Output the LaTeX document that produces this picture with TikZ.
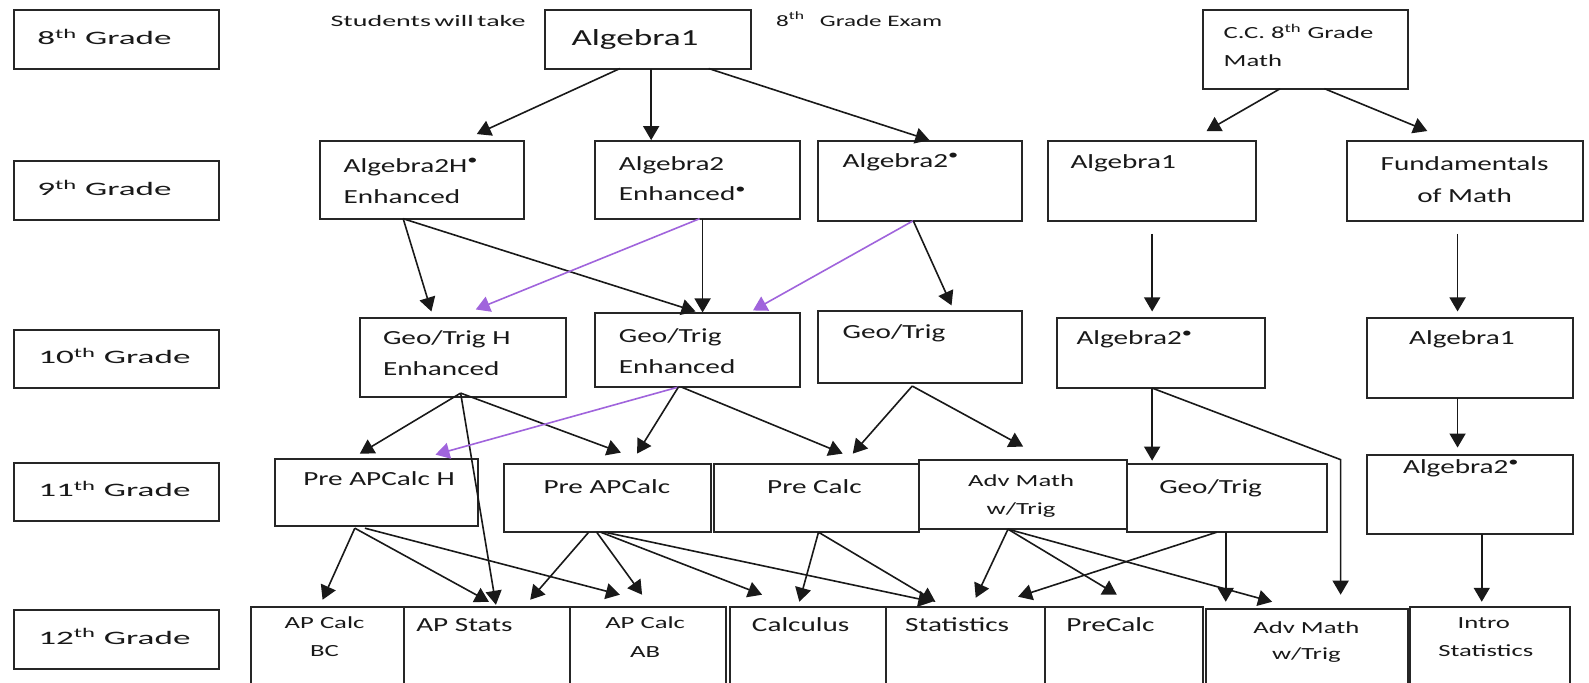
\documentclass[tikz,border=0pt]{standalone}
\usepackage{fontspec}
\usepackage{graphicx}
\setmainfont{Carlito}
\usetikzlibrary{arrows.meta,fit,calc}
\definecolor{lilac}{RGB}{160,100,220}
\newcommand{\xG}[1]{\scalebox{1.85}[1]{#1}}
\newcommand{\xB}[1]{\scalebox{1.53}[1]{#1}}
\newcommand{\xM}[1]{\scalebox{1.46}[1]{#1}}
\newcommand{\xS}[1]{\scalebox{1.57}[1]{#1}}
\newcommand{\xT}[1]{\scalebox{1.75}[1]{#1}}
\newcommand{\bul}{\textsuperscript{•}}
\begin{document}
\begin{tikzpicture}[x=1.008pt,y=-1.008pt,
 box/.style={draw=black!85, line width=2pt, inner sep=0pt, outer sep=0pt},
 tx/.style={inner sep=0pt, outer sep=0pt, text=black!90},
 tw/.style={tx, anchor=base west},
 tc/.style={tx, anchor=base},
 fg/.style={font=\fontsize{19}{19}\selectfont},
 fb/.style={font=\fontsize{23}{23}\selectfont},
 fm/.style={font=\fontsize{20}{20}\selectfont},
 fs/.style={font=\fontsize{17}{17}\selectfont},
 ft/.style={font=\fontsize{16}{16}\selectfont},
 arr/.style={line width=1.6pt, draw=black!90, -{Triangle[length=14pt,width=16pt]}},
 parr/.style={arr, draw=lilac}]
\fill[white] (0,0) rectangle (1576.4,676.6);
\useasboundingbox (0,0) rectangle (1576.4,676.6);
% grade boxes
\node[box, fit={(14,10) (217,68)}] (g8) {};
\node[box, fit={(14,160) (217,218)}] (g9) {};
\node[box, fit={(14,327) (217,385)}] (g10) {};
\node[box, fit={(14,459) (217,517)}] (g11) {};
\node[box, fit={(14,605) (217,664)}] (g12) {};
\node[tw,fg] (tg8) at (37,44) {\xG{8\textsuperscript{th} Grade}};
\node[tw,fg] (tg9) at (37,194) {\xG{9\textsuperscript{th} Grade}};
\node[tw,fg] (tg10) at (38,361) {\xG{10\textsuperscript{th} Grade}};
\node[tw,fg] (tg11) at (38,493) {\xG{11\textsuperscript{th} Grade}};
\node[tw,fg] (tg12) at (38,639) {\xG{12\textsuperscript{th} Grade}};
% top row
\node[tw,ft] (tstu) at (328,26) {\xT{Students\hspace{2pt}will\hspace{2pt}take}};
\node[tw,ft] (texam) at (770,26) {\xS{8\textsuperscript{th}\hspace{6pt} Grade Exam}};
\node[box, fit={(541,10) (745,68)}] (alg) {};
\node[tw,fb] (talg) at (567,45) {\xB{Algebra1}};
\node[box, fit={(1193,10) (1397,88)}] (cc) {};
\node[tw,fs] (tcc1) at (1214,38) {\xS{C.C. 8\textsuperscript{th} Grade}};
\node[tw,fs] (tcc2) at (1214,66) {\xS{Math}};
% row 9
\node[box, fit={(317,140) (520,217)}] (a2he) {};
\node[box, fit={(590,140) (794,217)}] (a2e) {};
\node[box, fit={(812,140) (1014,219)}] (a2s) {};
\node[box, fit={(1040,140) (1246,219)}] (a1r) {};
\node[box, fit={(1336,140) (1570,219)}] (fom) {};
\node[tw,fm] (t9a) at (341,171) {\xM{Algebra2H\bul}};
\node[tw,fm] (t9b) at (341,202) {\xM{Enhanced}};
\node[tw,fm] (t9c) at (614,169) {\xM{Algebra2}};
\node[tw,fm] (t9d) at (614,199) {\xM{Enhanced\bul}};
\node[tw,fm] (t9e) at (836,166) {\xM{Algebra2\bul}};
\node[tw,fm] (t9f) at (1062,167) {\xM{Algebra1}};
\node[tc,fm] (t9g) at (1453,169) {\xM{Fundamentals}};
\node[tc,fm] (t9h) at (1453,201) {\xM{of Math}};
% row 10
\node[box, fit={(357,315) (562,394)}] (gthe) {};
\node[box, fit={(590,311) (794,384)}] (gte) {};
\node[box, fit={(812,309) (1014,380)}] (gt) {};
\node[box, fit={(1049,315) (1255,385)}] (a2sx) {};
\node[box, fit={(1356,315) (1561,395)}] (a1rx) {};
\node[tw,fm] (t10a) at (380,342) {\xM{Geo/Trig H}};
\node[tw,fm] (t10b) at (380,373) {\xM{Enhanced}};
\node[tw,fm] (t10c) at (614,340) {\xM{Geo/Trig}};
\node[tw,fm] (t10d) at (614,371) {\xM{Enhanced}};
\node[tw,fm] (t10e) at (836,336) {\xM{Geo/Trig}};
\node[tw,fm] (t10f) at (1068,342) {\xM{Algebra2\bul}};
\node[tw,fm] (t10g) at (1398,342) {\xM{Algebra1}};
% row 11
\node[box, fit={(273,455) (474,522)}] (paph) {};
\node[box, fit={(500,460) (705,528)}] (pap) {};
\node[box, fit={(708,460) (912,528)}] (pc) {};
\node[box, fit={(912,456) (1118,525)}] (am) {};
\node[box, fit={(1118,460) (1316,528)}] (gty) {};
\node[box, fit={(1356,451) (1561,530)}] (a2sy) {};
\node[tc,fm] (t11a) at (376,482) {\xM{Pre APCalc H}};
\node[tc,fm] (t11b) at (602,490) {\xM{Pre APCalc}};
\node[tc,fm] (t11c) at (808,490) {\xM{Pre Calc}};
\node[tc,fs] (t11d) at (1013,483) {\xS{Adv Math}};
\node[tc,fs] (t11e) at (1013,510) {\xS{w/Trig}};
\node[tc,fm] (t11f) at (1201,490) {\xM{Geo/Trig}};
\node[tw,fm] (t11g) at (1392,470) {\xM{Algebra2\bul}};
% row 12
\node[box, fit={(249,602) (401,700)}] (apbc) {};
\node[box, fit={(401,602) (565,700)}] (aps) {};
\node[box, fit={(565,602) (720,700)}] (apab) {};
\node[box, fit={(724,602) (879,700)}] (calcu) {};
\node[box, fit={(879,602) (1037,700)}] (stat) {};
\node[box, fit={(1037,602) (1193,700)}] (prec) {};
\node[box, fit={(1196,604) (1397,700)}] (amt) {};
\node[box, fit={(1399,602) (1558,700)}] (intro) {};
\node[tc,fs] (t12a) at (322,624) {\xS{AP Calc}};
\node[tc,fs] (t12b) at (322,651) {\xS{BC}};
\node[tw,fm] (t12c) at (413,626) {\xM{AP Stats}};
\node[tc,fs] (t12d) at (640,624) {\xS{AP Calc}};
\node[tc,fs] (t12e) at (640,652) {\xS{AB}};
\node[tw,fm] (t12f) at (746,626) {\xM{Calculus}};
\node[tw,fm] (t12g) at (898,626) {\xM{Statistics}};
\node[tw,fm] (t12h) at (1058,626) {\xM{PreCalc}};
\node[tc,fs] (t12i) at (1296,628) {\xS{Adv Math}};
\node[tc,fs] (t12j) at (1296,654) {\xS{w/Trig}};
\node[tc,fs] (t12k) at (1472,624) {\xS{Intro}};
\node[tc,fs] (t12l) at (1474,651) {\xS{Statistics}};
% arrows 8 -> 9
\draw[arr] ($(alg.south west)+(74,0)$) -- ($(a2he.north west)+(156,-7)$);
\draw[arr] ($(alg.south west)+(105,0)$) -- ($(a2e.north west)+(56,-1)$);
\draw[arr] ($(alg.south west)+(162,0)$) -- ($(a2s.north west)+(110,-1)$);
\draw[arr] ($(cc.south west)+(77,0)$) -- ($(a1r.north west)+(157,-10)$);
\draw[arr] ($(cc.south west)+(121,0)$) -- ($(fom.north west)+(80,-10)$);
% arrows 9 -> 10
\draw[arr] ($(a2he.south west)+(83,0)$) -- ($(gthe.north west)+(71,-6)$);
\draw[arr] ($(a2he.south west)+(83,0)$) -- ($(gte.north west)+(100,-2)$);
\draw[arr] ($(a2e.south west)+(107,0)$) -- ($(gte.north west)+(107,-1)$);
\draw[parr] ($(a2e.south west)+(104,0)$) -- ($(gthe.north west)+(115,-8)$);
\draw[parr] ($(a2s.south west)+(94,0)$) -- ($(gte.north west)+(157,-3)$);
\draw[arr] ($(a2s.south west)+(94,0)$) -- ($(gt.north west)+(132,-6)$);
\draw[arr] ($(a1r.south west)+(103,13)$) -- ($(a2sx.north west)+(94,-6)$);
\draw[arr] ($(fom.south west)+(110,13)$) -- ($(a1rx.north west)+(90,-6)$);
% arrows 10 -> 11
\draw[arr] ($(gthe.south west)+(100,-4)$) -- ($(paph.north west)+(84,-5)$);
\draw[arr] ($(gthe.south west)+(100,-4)$) -- ($(aps.north west)+(91,-2)$);
\draw[arr] ($(gthe.south west)+(100,-4)$) -- ($(pap.north west)+(116,-11)$);
\draw[parr] ($(gte.south west)+(83,0)$) -- ($(paph.north west)+(159,-4)$);
\draw[arr] ($(gte.south west)+(83,0)$) -- ($(pap.north west)+(132,-10)$);
\draw[arr] ($(gte.south west)+(86,0)$) -- ($(pc.north west)+(128,-10)$);
\draw[arr] ($(gt.south west)+(93,3)$) -- ($(pc.north west)+(138,-10)$);
\draw[arr] ($(gt.south west)+(93,3)$) -- ($(am.north west)+(103,-13)$);
\draw[arr] ($(a2sx.south west)+(94,0)$) -- ($(gty.north west)+(25,-3)$);
\draw[arr] ($(a2sx.south west)+(94,0)$) -- ($(amt.north west)+(134,-148)$) -- ($(amt.north west)+(134,-14)$);
\draw[arr] ($(a1rx.south west)+(90,0)$) -- ($(a2sy.north west)+(90,-7)$);
% arrows 11 -> 12
\draw[arr] ($(a2sy.south west)+(114,0)$) -- ($(intro.north west)+(71,-5)$);
\draw[arr] ($(paph.south west)+(79,2)$) -- ($(apbc.north west)+(71,-7)$);
\draw[arr] ($(paph.south west)+(79,2)$) -- ($(aps.north west)+(84,-5)$);
\draw[arr] ($(paph.south west)+(89,2)$) -- ($(apab.north west)+(50,-12)$);
\draw[arr] ($(pap.south west)+(84,0)$) -- ($(aps.north west)+(125,-7)$);
\draw[arr] ($(pap.south west)+(92,0)$) -- ($(apab.north west)+(72,-12)$);
\draw[arr] ($(pap.south west)+(96,0)$) -- ($(calcu.north west)+(32,-12)$);
\draw[arr] ($(pap.south west)+(100,0)$) -- ($(stat.north west)+(46,-5)$);
\draw[arr] ($(pc.south west)+(104,0)$) -- ($(calcu.north west)+(69,-5)$);
\draw[arr] ($(pc.south west)+(104,0)$) -- ($(stat.north west)+(49,-5)$);
\draw[arr] ($(am.south west)+(88,0)$) -- ($(stat.north west)+(89,-9)$);
\draw[arr] ($(am.south west)+(88,0)$) -- ($(prec.north west)+(71,-12)$);
\draw[arr] ($(am.south west)+(88,0)$) -- ($(amt.north west)+(66,-7)$);
\draw[arr] ($(gty.south west)+(89,0)$) -- ($(stat.north west)+(131,-10)$);
\draw[arr] ($(gty.south west)+(98,0)$) -- ($(amt.north west)+(20,-7)$);
\end{tikzpicture}
\end{document}
